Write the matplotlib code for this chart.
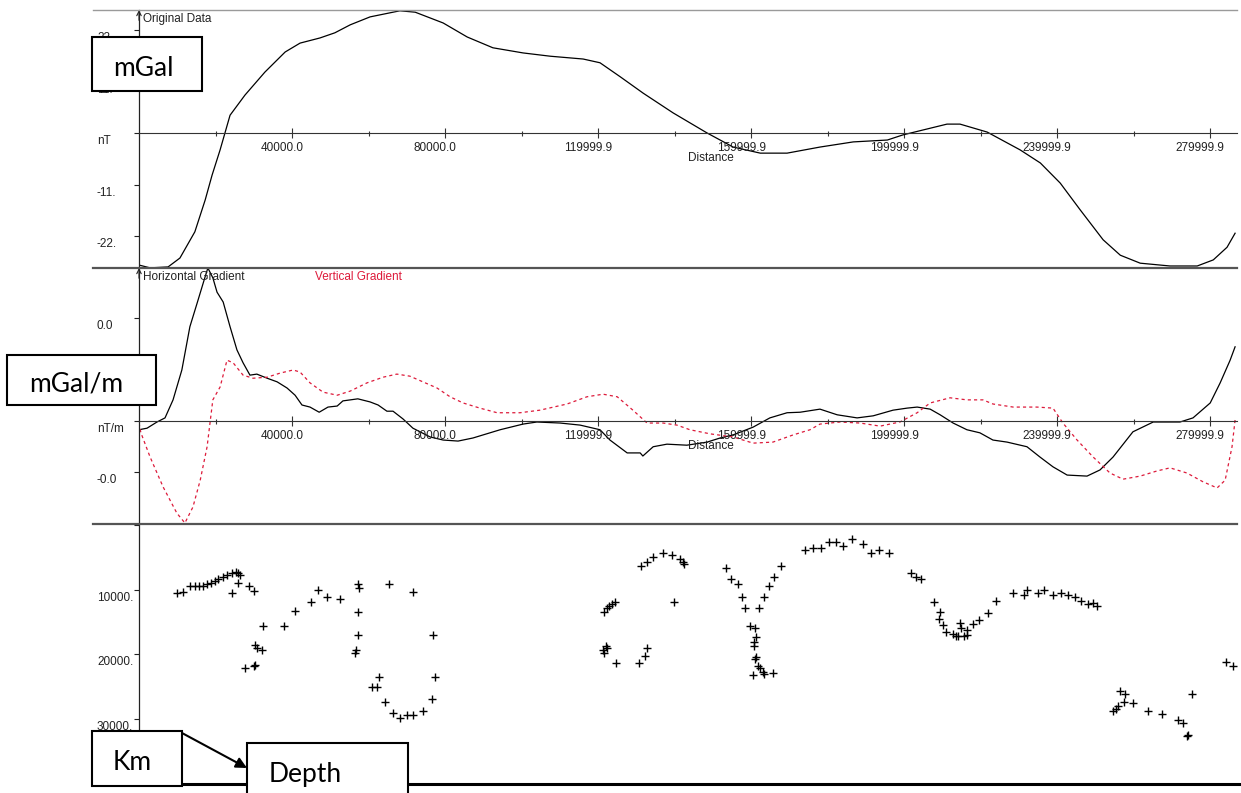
import matplotlib
matplotlib.use('Agg')
import matplotlib.pyplot as plt
from matplotlib.lines import Line2D
from matplotlib.patches import Rectangle, FancyArrowPatch
from matplotlib.transforms import offset_copy

W, H = 1241, 793

# ---- Original Data profile (distance m, anomaly) ----
orig_dist = [0, 2900, 7600, 10700, 14600, 17300, 19100, 21200, 23800, 27700,
             32900, 38200, 42100, 47300, 51200, 55200, 60400, 68200, 72200, 79500,
             85800, 92500, 100400, 107500, 116100, 120500, 125800, 131800, 139600, 148500,
             155300, 162400, 169400, 178000, 186700, 195600, 199700, 211200, 214600, 221700,
             230300, 235600, 240800, 246000, 252000, 256500, 261700, 269500, 276600, 280800,
             284400, 286500]
orig_val = [-28.2, -28.8, -28.6, -26.7, -21.1, -14.3, -9.0, -3.6, 3.8, 8.1,
            13.0, 17.3, 19.2, 20.3, 21.4, 23.1, 24.8, 26.1, 25.8, 23.5,
            20.5, 18.2, 17.1, 16.4, 15.8, 15.0, 12.0, 8.5, 4.3, 0.0,
            -3.0, -4.3, -4.3, -3.0, -1.9, -1.5, -0.4, 1.9, 1.9, 0.2,
            -3.6, -6.4, -10.7, -16.4, -22.8, -26.1, -27.8, -28.4, -28.4, -27.1,
            -24.4, -21.4]

# ---- Horizontal gradient (black) ----
hg_dist = [0, 2100, 4700, 6800, 8900, 11200, 13300, 15200, 17200, 18000,
           19300, 20400, 22000, 23800, 25600, 27200, 29000, 30800, 33500, 36100,
           38700, 40800, 42600, 44700, 47100, 49400, 51800, 53300, 57200, 60400,
           62500, 64800, 66400, 69000, 71600, 76100, 79500, 83400, 87300, 94400,
           100400, 104000, 110100, 115300, 120500, 123100, 127600, 131000, 131700, 134400,
           138000, 143200, 148500, 151900, 155300, 160500, 164900, 169400, 172800, 178000,
           182500, 187700, 191900, 197100, 200800, 203400, 206800, 209400, 212800, 216400,
           219800, 223200, 226900, 232100, 235500, 238900, 242600, 247800, 251200, 254600,
           259800, 265100, 272100, 275500, 280000, 282600, 285200, 286500]
hg_val = [-0.17, -0.14, -0.02, 0.06, 0.41, 0.99, 1.83, 2.29, 2.78, 2.97,
          2.78, 2.50, 2.31, 1.83, 1.38, 1.13, 0.89, 0.91, 0.83, 0.76,
          0.64, 0.50, 0.31, 0.27, 0.17, 0.27, 0.29, 0.39, 0.43, 0.37,
          0.31, 0.19, 0.19, 0.04, -0.14, -0.31, -0.37, -0.39, -0.33, -0.17,
          -0.06, -0.02, -0.04, -0.08, -0.17, -0.37, -0.62, -0.62, -0.68, -0.50,
          -0.45, -0.47, -0.41, -0.33, -0.27, -0.12, 0.06, 0.16, 0.17, 0.23,
          0.12, 0.06, 0.10, 0.21, 0.25, 0.27, 0.23, 0.12, -0.04, -0.17,
          -0.23, -0.37, -0.41, -0.50, -0.70, -0.89, -1.05, -1.07, -0.95, -0.70,
          -0.21, -0.02, -0.02, 0.06, 0.35, 0.74, 1.18, 1.44]

# ---- Vertical gradient (red dashed) ----
vg_dist = [0, 500, 2900, 6300, 9900, 12000, 14100, 16000, 17800, 19300,
           21200, 23000, 24600, 27200, 29800, 33500, 36900, 40300, 42100, 44700,
           48100, 51800, 55200, 59600, 63800, 67400, 70800, 74200, 77900, 81300,
           84700, 89100, 93600, 99600, 104800, 111900, 117100, 121300, 125000, 129100,
           132800, 137000, 140600, 144000, 149300, 155300, 160500, 165700, 171000, 175400,
           178000, 183200, 188500, 193700, 198900, 203400, 206800, 212000, 216400, 220600,
           223200, 228500, 234700, 238900, 241500, 245200, 249400, 253800, 257200, 261700,
           266100, 269500, 273900, 278100, 281800, 283900, 285700, 286500]
vg_val = [-0.04, -0.23, -0.70, -1.28, -1.79, -1.98, -1.67, -1.15, -0.50, 0.41,
          0.66, 1.18, 1.13, 0.89, 0.83, 0.85, 0.93, 0.99, 0.95, 0.74,
          0.56, 0.50, 0.58, 0.74, 0.85, 0.91, 0.87, 0.76, 0.64, 0.47,
          0.35, 0.25, 0.16, 0.16, 0.21, 0.33, 0.47, 0.52, 0.47, 0.21,
          -0.04, -0.04, -0.08, -0.17, -0.25, -0.31, -0.43, -0.41, -0.27, -0.17,
          -0.06, -0.02, -0.04, -0.10, -0.02, 0.16, 0.35, 0.45, 0.41, 0.41,
          0.33, 0.27, 0.27, 0.25, -0.04, -0.37, -0.70, -1.01, -1.13, -1.07,
          -0.97, -0.91, -1.01, -1.18, -1.30, -1.15, -0.50, 0.02]

# ---- Depth solutions (distance m, depth m) ----
sol_dist = [9900, 11500, 13300, 14600, 15700, 16700, 17800, 18800, 19900, 20700,
            22000, 23000, 24300, 25400, 25900, 26400,
            24300, 25900, 28800, 30100,
            32400, 37900, 40800, 44900, 46800, 49100, 52500,
            30300, 30800, 32200, 27700, 30100, 30300,
            57200, 57500, 57200, 57200, 56700, 56500,
            65400, 71600,
            62700, 60900, 62200, 64300, 66400, 68200, 70100, 71600, 74200, 76600, 77400, 76900,
            121600, 122300, 122900, 123600, 124400,
            121300, 121600, 122100, 122300, 124700, 130700, 132300, 132800,
            131200, 132800, 134400, 137000, 139300, 141400, 142200, 142500, 139900,
            153400, 154700, 156600, 157600, 158400, 159700, 161000, 161300, 160800, 160800,
            161300, 161000, 161800, 162300, 163100, 163400, 165700, 160500,
            162100, 163400, 164700, 166000, 167800,
            174100, 176200, 178300, 180400, 182200, 184000, 186400, 189300, 191300, 193400, 196100,
            201800, 203100, 204400,
            207800, 209400, 209100, 210200, 211000, 212800, 213600, 214100, 214600, 214900,
            215700, 216400, 216400, 218000, 219600, 221900, 224000,
            228500, 231300, 232100, 235000, 236600, 238900, 241000, 242800, 244700, 246200,
            248100, 249400, 250400,
            284100, 286000,
            256400, 257700, 257500, 255900, 255400, 254600, 259800, 263800, 267400, 271600,
            272900, 274200, 274000, 275300]
sol_depth = [10500, 10300, 9500, 9400, 9400, 9400, 9200, 8900, 8600, 8300,
             8000, 7700, 7400, 7200, 7400, 7800,
             10500, 8900, 9400, 10200,
             15600, 15700, 13300, 11900, 10000, 11200, 11400,
             18500, 19100, 19300, 22100, 21800, 21600,
             9100, 9800, 13400, 17000, 19300, 19800,
             9100, 10300,
             23500, 25000, 25000, 27400, 29100, 29800, 29400, 29400, 28800, 26900, 23500, 17000,
             13400, 12900, 12600, 12200, 11900,
             19300, 19800, 18800, 19100, 21300, 21300, 20200, 19100,
             6400, 5700, 4900, 4300, 4600, 5200, 5700, 6100, 11900,
             6700, 8400, 9100, 11200, 12900, 15600, 16000, 17400, 18100, 18700,
             20400, 20700, 21800, 22200, 22700, 23000, 22900, 23200,
             12800, 11200, 9500, 8000, 6300,
             3800, 3500, 3500, 2600, 2700, 3200, 2200, 2900, 4300, 3800, 4400,
             7500, 8000, 8300,
             11900, 13400, 14500, 15400, 16500, 16800, 17100, 17100, 15100, 15900,
             17100, 17000, 16200, 15300, 14700, 13600, 11700,
             10500, 10900, 10000, 10500, 10000, 10800, 10500, 10900, 11100, 11700,
             12300, 12000, 12600,
             21200, 21800,
             25700, 26100, 27400, 28000, 28500, 28800, 27500, 28800, 29200, 30200,
             30600, 32500, 32600, 26100]

xmajor = [40000.0, 80000.0, 119999.9, 159999.9, 199999.9, 239999.9, 279999.9]
xminor = [20000, 60000, 100000, 140000, 180000, 220000, 260000]

top_ticks = [22, 11, 0, -11, -22]
top_labels = ['22.', '11.', 'nT', '-11.', '-22.']
# the label at tick 1 sits under the "mGal/m" box in the original, so it is left blank
mid_ticks = [2, 1, 0, -1, -2]
mid_labels = ['0.0', '', 'nT/m', '-0.0', '']
bot_ticks = [0, 10000, 20000, 30000]
bot_labels = ['', '10000.', '20000.', '30000.']

plt.rcParams['font.family'] = ['Liberation Sans', 'DejaVu Sans']
INK = '#222222'
RED = '#dd1a3a'


def fx(x):
    return x / W


def fy(y):
    return 1 - y / H


fig = plt.figure(figsize=(W / 100, H / 100), dpi=100)
ax1 = fig.add_axes([fx(139), fy(268), 1098 / W, 258 / H])
ax2 = fig.add_axes([fx(139), fy(524), 1098 / W, 256 / H])
ax3 = fig.add_axes([fx(139), fy(784), 1098 / W, 259 / H])

xmax = 287000


def ylabels(ax, ticks, labels):
    ax.set_yticks(ticks)
    ax.tick_params(axis='y', direction='out', length=3.6, width=0.8,
                   color=INK, labelleft=False)
    tr = offset_copy(ax.get_yaxis_transform(), fig=fig, x=0, y=-8, units='dots')
    for t, lab in zip(ticks, labels):
        if lab:
            ax.text(-0.0383, t, lab, transform=tr, ha='left', va='center',
                    fontsize=8.5, color=INK)


def profile_axis(ax, ylim, ticks, labels):
    ax.set_xlim(0, xmax)
    ax.set_ylim(*ylim)
    for s in ['top', 'right']:
        ax.spines[s].set_visible(False)
    ax.spines['bottom'].set_position(('data', 0))
    ax.spines['bottom'].set_color('#333333')
    ax.spines['left'].set_color(INK)
    ax.spines['left'].set_linewidth(0.9)
    ax.set_xticks(xmajor)
    ax.set_xticks(xminor, minor=True)
    ax.tick_params(axis='x', which='major', direction='inout', length=6.5,
                   width=0.8, color='#333333', labelbottom=False)
    ax.tick_params(axis='x', which='minor', direction='inout', length=3.6,
                   width=0.8, color='#333333')
    tr = offset_copy(ax.transData, fig=fig, x=-10, y=-9, units='dots')
    for v in xmajor:
        ax.text(v, 0, '%.1f' % v, transform=tr, ha='center', va='top',
                fontsize=8.5, color=INK)
    trd = offset_copy(ax.transData, fig=fig, x=0, y=-25, units='dots')
    ax.text(149500, 0, 'Distance', transform=trd, ha='center', va='center',
            fontsize=8.5, color=INK)
    ylabels(ax, ticks, labels)
    ax.annotate('', xy=(0, 1.0), xytext=(0, 0.96), xycoords='axes fraction',
                arrowprops=dict(arrowstyle='->', lw=0.8, color=INK,
                                mutation_scale=8, shrinkA=0, shrinkB=0))


# top panel
ax1.plot(orig_dist, orig_val, color='black', lw=0.9)
profile_axis(ax1, (-28.83, 26.27), top_ticks, top_labels)
ax1.text(0.004, 0.965, 'Original Data', transform=ax1.transAxes,
         ha='left', va='center', fontsize=8.5, color=INK)

# middle panel
ax2.plot(hg_dist, hg_val, color='black', lw=0.9)
ax2.plot(vg_dist, vg_val, color=RED, lw=0.9, dashes=(2.5, 2.5))
profile_axis(ax2, (-2.0, 2.97), mid_ticks, mid_labels)
ax2.text(0.004, 0.965, 'Horizontal Gradient', transform=ax2.transAxes,
         ha='left', va='center', fontsize=8.5, color=INK)
ax2.text(0.16, 0.965, 'Vertical Gradient', transform=ax2.transAxes,
         ha='left', va='center', fontsize=8.5, color=RED)

# bottom panel: depth solutions
ax3.plot(sol_dist, sol_depth, ls='none', marker='+', ms=5.5, mew=1.0, color='black')
ax3.set_xlim(0, xmax)
ax3.set_ylim(40080, 0)
for s in ['top', 'right', 'bottom']:
    ax3.spines[s].set_visible(False)
ax3.spines['left'].set_color(INK)
ax3.spines['left'].set_linewidth(0.9)
ax3.set_xticks([])
ylabels(ax3, bot_ticks, bot_labels)

# frame lines across the window
fig.add_artist(Line2D([fx(93), fx(1237)], [fy(10), fy(10)], color='#9a9a9a', lw=1.0, zorder=3))
fig.add_artist(Line2D([fx(93), fx(1237)], [fy(268), fy(268)], color='#555555', lw=1.6, zorder=3))
fig.add_artist(Line2D([fx(93), fx(1237)], [fy(524), fy(524)], color='#555555', lw=1.6, zorder=3))
fig.add_artist(Line2D([fx(93), fx(1241)], [fy(784), fy(784)], color='black', lw=2.2, zorder=3))


# annotation boxes
def box(x0, y0, x1, y1, label, tx, ty):
    fig.add_artist(Rectangle((fx(x0), fy(y1)), (x1 - x0) / W, (y1 - y0) / H,
                             transform=fig.transFigure, facecolor='white',
                             edgecolor='black', lw=1.5, zorder=5))
    fig.text(fx(tx), fy(ty), label, ha='left', va='baseline', fontsize=19,
             family=['Lato', 'DejaVu Sans'], color='black', zorder=6)


box(92, 37, 202, 91, 'mGal', 113, 76)
box(7, 355, 156, 405, 'mGal/m', 29, 392)
box(92, 731, 182, 786, 'Km', 113, 770)
box(247, 743, 408, 805, 'Depth', 269, 782)
fig.add_artist(FancyArrowPatch(
    (fx(182), fy(733)), (fx(247), fy(768)), transform=fig.transFigure,
    arrowstyle='-|>', mutation_scale=16, color='black', lw=1.5, zorder=6,
    shrinkA=0, shrinkB=0))

fig.savefig('out.png', dpi=100)
